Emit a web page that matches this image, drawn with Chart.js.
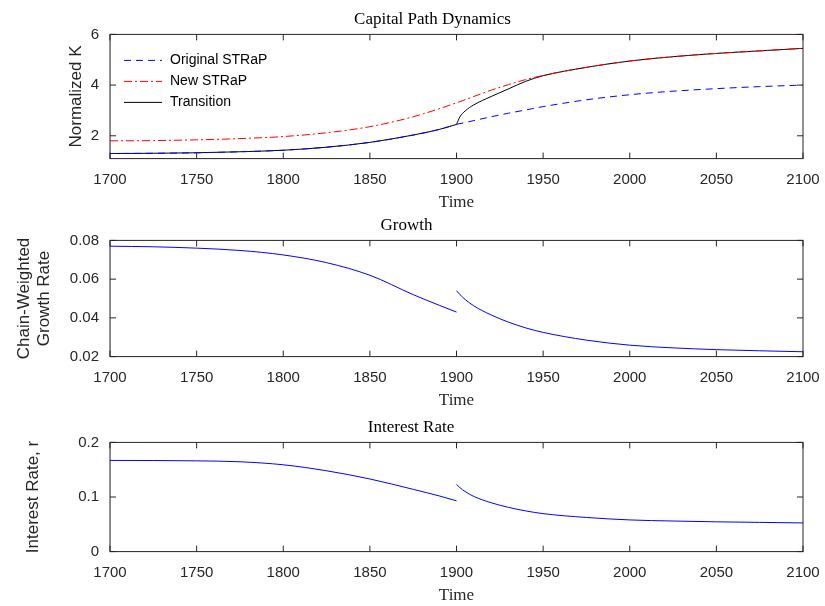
<!DOCTYPE html>
<html><head>
<script src="https://cdn.jsdelivr.net/npm/chart.js@4"></script>
<style>
body{margin:0;background:#fff;width:825px;height:606px;overflow:hidden}
.p{position:absolute;left:0;width:825px}
</style></head><body>
<div class="p" style="top:9px;height:204px"><canvas id="c1"></canvas></div>
<div class="p" style="top:215px;height:196px"><canvas id="c2"></canvas></div>
<div class="p" style="top:417px;height:189px"><canvas id="c3"></canvas></div>
<script>
// years
const yearsPre = [1700,1725,1750,1775,1800,1825,1850,1875,1890,1900];
const yearsPost = [1900,1902,1905,1910,1920,1930,1940,1950,1975,2000,2025,2050,2075,2100];
const yearsAll = [1700,1725,1750,1775,1800,1825,1850,1875,1900,1910,1920,1930,1940,1950,1975,2000,2025,2050,2075,2100];

// capital path
const origPre = [1.30,1.31,1.33,1.37,1.43,1.55,1.74,2.03,2.25,2.45];
const origPost = [2.45,2.48,2.52,2.60,2.75,2.89,3.02,3.15,3.42,3.62,3.76,3.86,3.94,4.00];
const newAll = [1.80,1.81,1.84,1.89,1.97,2.12,2.36,2.75,3.30,3.55,3.80,4.02,4.22,4.38,4.70,4.95,5.12,5.25,5.35,5.45];
const transPost = [2.45,2.75,2.98,3.22,3.55,3.85,4.15,4.37,4.70,4.95,5.12,5.25,5.35,5.45];

// growth
const growthPre = [0.0770,0.0767,0.0760,0.0748,0.0725,0.0685,0.0620,0.0520,0.0465,0.0430];
const growthPost = [0.0540,0.0520,0.0495,0.0462,0.0415,0.0378,0.0348,0.0325,0.0285,0.0259,0.0245,0.0236,0.0230,0.0225];

// interest rate
const ratePre = [0.167,0.1668,0.1662,0.1645,0.1590,0.1480,0.1330,0.1140,0.1020,0.0930];
const ratePost = [0.1230,0.1170,0.1100,0.1010,0.0895,0.0810,0.0745,0.0695,0.0625,0.0580,0.0560,0.0545,0.0535,0.0525];

const zip = (xs, ys) => xs.map((x, i) => ({x, y: ys[i]}));
const serif = "'Liberation Serif','DejaVu Serif',serif";
const sans = "'Liberation Sans',Arial,sans-serif";

const boxPlugin = {
  id: 'box',
  afterDraw(c) {
    const a = c.chartArea, ctx = c.ctx;
    ctx.save();
    ctx.strokeStyle = '#262626'; ctx.lineWidth = 1;
    ctx.strokeRect(a.left, a.top, a.right - a.left, a.bottom - a.top);
    // inward ticks
    const xs = c.scales.x, ys = c.scales.y;
    ctx.beginPath();
    xs.ticks.forEach(t => { const px = xs.getPixelForValue(t.value);
      ctx.moveTo(px, a.bottom); ctx.lineTo(px, a.bottom - 6);
      ctx.moveTo(px, a.top); ctx.lineTo(px, a.top + 6); });
    ys.ticks.forEach(t => { const py = ys.getPixelForValue(t.value);
      ctx.moveTo(a.left, py); ctx.lineTo(a.left + 6, py);
      ctx.moveTo(a.right, py); ctx.lineTo(a.right - 6, py); });
    ctx.stroke();
    if (c.options.plugins.box && c.options.plugins.box.legend) {
      ctx.font = '14px ' + sans; ctx.textBaseline = 'middle';
      c.data.datasets.filter(d => d.label).forEach((d, i) => {
        const y = a.top + 26 + i * 21, x = a.left + 14;
        ctx.strokeStyle = d.borderColor; ctx.lineWidth = 1;
        ctx.setLineDash(d.borderDash || []);
        ctx.beginPath(); ctx.moveTo(x, y); ctx.lineTo(x + 38, y); ctx.stroke();
        ctx.setLineDash([]);
        ctx.fillStyle = '#000'; ctx.fillText(d.label, x + 46, y);
      });
    }
    ctx.restore();
  }
};

function makeChart(id, title, yTitle, yMin, yMax, yStep, datasets, legend, decimals, padLeft) {
  return new Chart(document.getElementById(id), {
    type: 'line',
    data: { datasets },
    plugins: [boxPlugin],
    options: {
      responsive: true, maintainAspectRatio: false, animation: false,
      layout: { padding: { right: 22, top: 0, left: padLeft } },
      elements: { point: { radius: 0 }, line: { borderWidth: 1, cubicInterpolationMode: 'monotone' } },
      plugins: {
        legend: { display: false }, tooltip: { enabled: false },
        box: { legend },
        title: { display: true, text: title, color: '#000', font: { family: serif, size: 17, weight: 'normal' }, padding: { top: 0, bottom: 5 } }
      },
      scales: {
        x: { type: 'linear', min: 1700, max: 2100,
          ticks: { stepSize: 50, color: '#262626', font: { family: sans, size: 15 }, maxRotation: 0, padding: 4, callback: v => String(v) },
          grid: { display: false },
          title: { display: true, text: 'Time', color: '#262626', font: { family: serif, size: 17 }, padding: { top: 0, bottom: 0 } } },
        y: { min: yMin, max: yMax,
          afterBuildTicks: s => { s.ticks = s.ticks.filter(t => Math.abs(Math.round(t.value / yStep) * yStep - t.value) < 1e-9); },
          afterFit: s => { s.width = 110 - padLeft; },
          ticks: { stepSize: yStep, color: '#262626', font: { family: sans, size: 15 },
            callback: v => decimals ? (v === 0 ? '0' : v.toFixed(decimals)) : String(v) },
          grid: { display: false },
          title: { display: true, text: yTitle, color: '#262626', font: { family: sans, size: 17 }, padding: { bottom: 2 } } }
      }
    }
  });
}

makeChart('c1', 'Capital Path Dynamics', 'Normalized K', 1.1, 6, 2, [
  { label: 'Original STRaP', data: zip(yearsPre, origPre).concat([{x: 1900, y: null}], zip(yearsPost, origPost)), borderColor: '#0000ff', borderDash: [7, 5], spanGaps: false },
  { label: 'New STRaP', data: zip(yearsAll, newAll), borderColor: '#ff0000', borderDash: [8, 3, 2, 3] },
  { label: 'Transition', data: zip(yearsPre, origPre).concat([{x: 1900, y: null}], zip(yearsPost, transPost)), borderColor: '#000000', spanGaps: false }
], true, 0, 62);

makeChart('c2', 'Growth', ['Chain-Weighted', 'Growth Rate'], 0.02, 0.08, 0.02, [
  { data: zip(yearsPre, growthPre).concat([{x: 1900, y: null}], zip(yearsPost, growthPost)), borderColor: '#0000ff', spanGaps: false }
], false, 2, 10);

makeChart('c3', 'Interest Rate', 'Interest Rate, r', 0, 0.2, 0.1, [
  { data: zip(yearsPre, ratePre).concat([{x: 1900, y: null}], zip(yearsPost, ratePost)), borderColor: '#0000ff', spanGaps: false }
], false, 1, 19);
</script>
</body></html>
